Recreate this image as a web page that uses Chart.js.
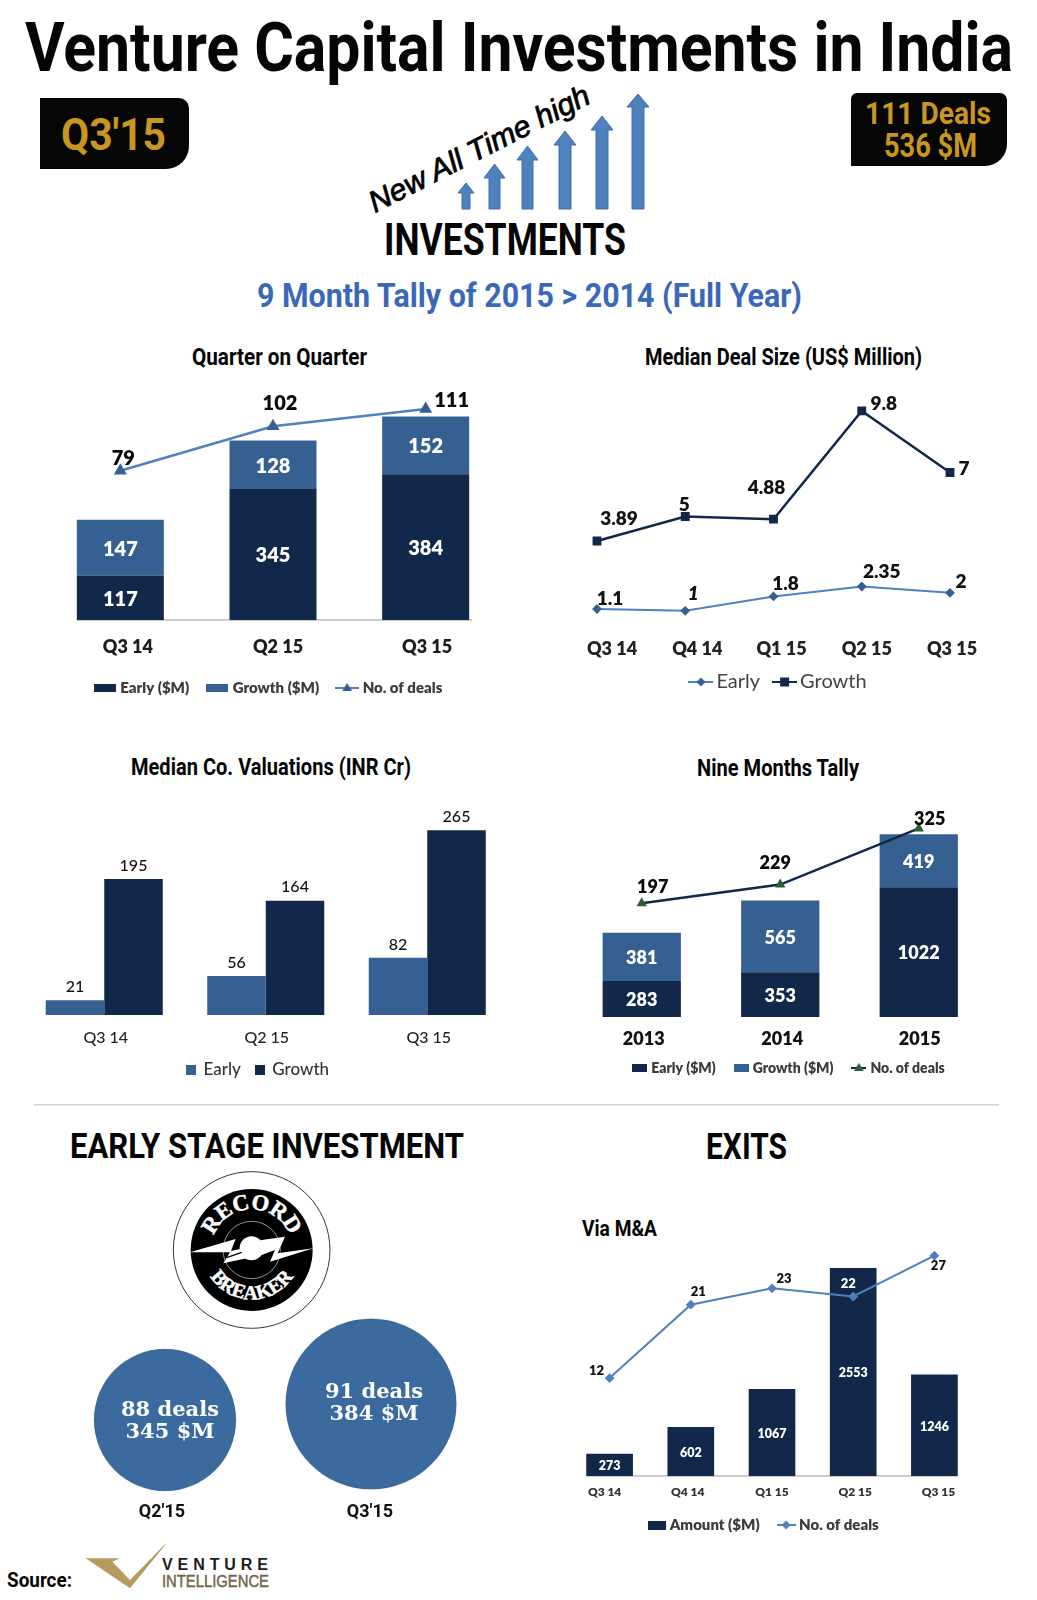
<!DOCTYPE html>
<html>
<head>
<meta charset="utf-8">
<title>Venture Capital Investments in India</title>
<script src="https://cdn.jsdelivr.net/npm/chart.js@4/dist/chart.umd.min.js"></script>
<style>
  html, body { margin: 0; padding: 0; background: #fff; }
  #page { position: relative; width: 1037px; height: 1600px; overflow: hidden; }
  #page svg { position: absolute; left: 0; top: 0; }
  #page canvas { position: absolute; }
  .h { font-family: "Liberation Sans Narrow", Roboto, sans-serif; font-weight: 700; fill: #050505; }
</style>
</head>
<body>
<div id="page">
<svg width="1037" height="1600" viewBox="0 0 1037 1600">
  <text class="h" x="25" y="71" font-size="69" textLength="988" lengthAdjust="spacingAndGlyphs">Venture Capital Investments in India</text>

  <path d="M40 98H179a10 10 0 0 1 10 10V146a23 23 0 0 1 -23 23H40Z" fill="#060606"/>
  <text class="h" x="61" y="150" font-size="45" textLength="105" lengthAdjust="spacingAndGlyphs" style="fill:#c9971f">Q3'15</text>
  <path d="M857 93H1000a7 7 0 0 1 7 7V144a22 22 0 0 1 -22 22H851V99a6 6 0 0 1 6 -6Z" fill="#060606"/>
  <text class="h" x="865" y="124" font-size="31" textLength="126" lengthAdjust="spacingAndGlyphs" style="fill:#c9971f">111 Deals</text>
  <text class="h" x="884" y="157" font-size="33" textLength="93" lengthAdjust="spacingAndGlyphs" style="fill:#c9971f">536 $M</text>

  <g fill="#4f81bd" stroke="#3f6fa8" stroke-width="1">
    <path d="M462 209V193H458L466 183L474 193H470V209Z"/>
    <path d="M489 209V178H484L494.5 164L505 178H500V209Z"/>
    <path d="M522 209V160H517L527.5 146L538 160H533V209Z"/>
    <path d="M559 209V145H554L565 131L576 145H571V209Z"/>
    <path d="M596 209V130H591L602 116L613 130H608V209Z"/>
    <path d="M632 209V107H627L638 94L649 107H644V209Z"/>
  </g>
  <text x="375" y="213" transform="rotate(-27 375 213)" font-family="'Liberation Sans', sans-serif" font-style="italic" font-size="30" stroke="#000" stroke-width=".8" textLength="244" lengthAdjust="spacingAndGlyphs">New All Time high</text>
  <text class="h" x="384" y="255" font-size="45" textLength="242" lengthAdjust="spacingAndGlyphs">INVESTMENTS</text>
  <text class="h" x="257" y="307" font-size="33" textLength="545" lengthAdjust="spacingAndGlyphs" style="fill:#3a68b8">9 Month Tally of 2015 &gt; 2014 (Full Year)</text>

  <text class="h" x="192" y="365" font-size="23" textLength="175" lengthAdjust="spacingAndGlyphs">Quarter on Quarter</text>
  <text class="h" x="645" y="365" font-size="23" textLength="277" lengthAdjust="spacingAndGlyphs">Median Deal Size (US$ Million)</text>
  <text class="h" x="131" y="775" font-size="23" textLength="280" lengthAdjust="spacingAndGlyphs">Median Co. Valuations (INR Cr)</text>
  <text class="h" x="697" y="776" font-size="23" textLength="162" lengthAdjust="spacingAndGlyphs">Nine Months Tally</text>

  <rect x="34" y="1104" width="965" height="1.6" fill="#d2d2d2"/>

  <text class="h" x="70" y="1158" font-size="35" textLength="394" lengthAdjust="spacingAndGlyphs">EARLY STAGE INVESTMENT</text>
  <text class="h" x="706" y="1159" font-size="36" textLength="81" lengthAdjust="spacingAndGlyphs">EXITS</text>
  <text class="h" x="582" y="1236" font-size="22" textLength="75" lengthAdjust="spacingAndGlyphs">Via M&amp;A</text>

  <g transform="translate(165 1165) scale(.3333)">
    <circle cx="260" cy="255" r="235" fill="#fff" stroke="#333" stroke-width="3"/>
    <circle cx="260" cy="255" r="183" fill="#000"/>
    <circle cx="260" cy="255" r="86" fill="none" stroke="#ddd" stroke-width="2"/>
    <path d="M75 262L212 222L198 258L235 250L290 225L360 215L338 265L445 250L315 290L330 255L290 270L175 295L195 262Z" fill="#fff"/>
    <circle cx="260" cy="250" r="36" fill="#fff"/>
    <path d="M185 278L230 262" stroke="#000" stroke-width="4"/>
    <defs>
      <path id="arcTop" d="M138 255A122 122 0 0 1 382 255"/>
      <path id="arcBot" d="M112 255A148 148 0 0 0 408 255"/>
    </defs>
    <text font-family="'Liberation Serif', serif" font-weight="700" font-size="68" fill="#fff" stroke="#fff" stroke-width="1.5" text-anchor="middle"><textPath href="#arcTop" startOffset="50%">RECORD</textPath></text>
    <text font-family="'Liberation Serif', serif" font-weight="700" font-size="60" fill="#fff" stroke="#fff" stroke-width="1.5" text-anchor="middle"><textPath href="#arcBot" startOffset="50%">BREAKER</textPath></text>
  </g>

  <text class="h" x="7" y="1587" font-size="21" textLength="65" lengthAdjust="spacingAndGlyphs">Source:</text>
  <g transform="translate(75 1535) scale(.3333)">
    <path d="M32 70H135L112 80L165 135L270 28L275 25L165 160Z" fill="#b79a5e"/>
    <path d="M118 84L134 76L166 118L250 40L166 130Z" fill="#fff"/>
  </g>
  <text x="162" y="1570" font-family="'Liberation Sans', sans-serif" font-weight="700" font-size="16" fill="#1c1c1c" textLength="106" lengthAdjust="spacing">VENTURE</text>
  <text x="162" y="1587" font-family="'Liberation Sans Narrow', sans-serif" font-size="16" fill="#7d6e50" stroke="#5e5238" stroke-width=".4" textLength="107" lengthAdjust="spacingAndGlyphs">INTELLIGENCE</text>
</svg>
</div>

<script>
const qoqQuarters = ["Q3 14", "Q2 15", "Q3 15"];
const qoqEarly = [117, 345, 384];
const qoqGrowth = [147, 128, 152];
const qoqDeals = [79, 102, 111];

const sizeQuarters = ["Q3 14", "Q4 14", "Q1 15", "Q2 15", "Q3 15"];
const sizeEarly = [1.1, 1, 1.8, 2.35, 2];
const sizeGrowth = [3.89, 5, 4.88, 9.8, 7];

const valQuarters = ["Q3 14", "Q2 15", "Q3 15"];
const valEarly = [21, 56, 82];
const valGrowth = [195, 164, 265];

const tallyYears = ["2013", "2014", "2015"];
const tallyEarly = [283, 353, 1022];
const tallyGrowth = [381, 565, 419];
const tallyDeals = [197, 229, 325];

const exitQuarters = ["Q3 14", "Q4 14", "Q1 15", "Q2 15", "Q3 15"];
const exitAmount = [273, 602, 1067, 2553, 1246];
const exitDeals = [12, 21, 23, 22, 27];

const recordQuarters = ["Q2'15", "Q3'15"];
const recordDeals = [88, 91];
const recordAmount = [345, 384];

const DARK = "#12284a";
const MID = "#376092";
const LINE = "#4f81bd";
const LATO = "Lato, sans-serif";
const NARROW = '"Liberation Sans Narrow", Roboto, sans-serif';

// legend icons are little canvases so the marks look like the office ones
function boxIcon(w, h, color) {
  const c = document.createElement("canvas");
  c.width = w;
  c.height = h;
  const g = c.getContext("2d");
  g.fillStyle = color;
  g.fillRect(0, 0, w, h);
  return c;
}

function lineIcon(w, color, marker, markerColor) {
  const c = document.createElement("canvas");
  c.width = w;
  c.height = 14;
  const g = c.getContext("2d");
  g.strokeStyle = color;
  g.lineWidth = 2;
  g.beginPath();
  g.moveTo(0, 7);
  g.lineTo(w, 7);
  g.stroke();
  g.fillStyle = markerColor;
  const m = w / 2;
  g.beginPath();
  if (marker === "triangle") {
    g.moveTo(m, 2);
    g.lineTo(m + 5, 10);
    g.lineTo(m - 5, 10);
  } else if (marker === "diamond") {
    g.moveTo(m, 2.5);
    g.lineTo(m + 4.5, 7);
    g.lineTo(m, 11.5);
    g.lineTo(m - 4.5, 7);
  } else {
    g.rect(m - 4.5, 2.5, 9, 9);
  }
  g.fill();
  return c;
}

// value labels, Chart.js has no built in ones
const valueLabels = {
  id: "valueLabels",
  afterDatasetsDraw(chart) {
    const ctx = chart.ctx;
    chart.data.datasets.forEach((ds, i) => {
      const opt = ds.valueLabels;
      if (!opt) return;
      chart.getDatasetMeta(i).data.forEach((el, j) => {
        const off = opt.offsets ? opt.offsets[j] : [0, opt.dy || 0];
        const y = (opt.center ? (el.y + el.base) / 2 : el.y + off[1]) + 1.5;
        const x = opt.center ? el.x : el.x + off[0];
        const italic = opt.italic && opt.italic.includes(j) ? "italic " : "";
        ctx.save();
        ctx.font = italic + opt.font;
        ctx.fillStyle = Array.isArray(opt.color) ? opt.color[j] : opt.color;
        ctx.textAlign = "center";
        ctx.textBaseline = "middle";
        ctx.fillText(ds.data[j], x, y);
        ctx.restore();
      });
    });
  },
};

// grey axis line that only runs under the bars
const barBase = {
  id: "barBase",
  beforeDatasetsDraw(chart, args, opts) {
    if (!opts.color) return;
    const bars = chart.getDatasetMeta(0).data;
    const a = bars[0];
    const b = bars[bars.length - 1];
    const ctx = chart.ctx;
    ctx.save();
    ctx.strokeStyle = opts.color;
    ctx.lineWidth = 1.5;
    ctx.beginPath();
    ctx.moveTo(a.x - a.width / 2, chart.chartArea.bottom);
    ctx.lineTo(b.x + b.width / 2 + opts.extra, chart.chartArea.bottom);
    ctx.stroke();
    ctx.restore();
  },
};

// moves the legend to where the picture has it
const legendSpot = {
  id: "legendSpot",
  afterLayout(chart, args, opts) {
    const l = chart.legend;
    if (!opts.cx || !l) return;
    const w = l.right - l.left;
    l.left = opts.cx - opts.originX - w / 2;
    l.right = l.left + w;
    l.top = opts.cy - opts.originY - opts.padding - opts.size / 2;
    l.bottom = l.top + opts.size + 2 * opts.padding;
  },
};

// the tick labels in the picture do not sit quite under their bars
const tickShift = {
  id: "tickShift",
  beforeDraw(chart, args, opts) {
    if (!opts.dx) return;
    chart.scales.x.getLabelItems().forEach((item, i) => {
      item.options.translation[0] += opts.dx[i];
    });
  },
};

// text inside the early stage bubbles
const bubbleText = {
  id: "bubbleText",
  afterDatasetsDraw(chart, args, opts) {
    if (!opts.lines) return;
    const ctx = chart.ctx;
    ctx.save();
    ctx.font = '700 21px "DejaVu Serif", serif';
    ctx.fillStyle = "#fff";
    ctx.textAlign = "center";
    ctx.textBaseline = "middle";
    chart.getDatasetMeta(0).data.forEach((el, i) => {
      ctx.fillText(opts.lines[i][0], el.x + opts.dx[i], el.y + opts.dy[i]);
      ctx.fillText(opts.lines[i][1], el.x + opts.dx[i], el.y + opts.dy[i] + 22);
    });
    ctx.restore();
  },
};

Chart.register(valueLabels, barBase, legendSpot, tickShift, bubbleText);

function draw(spec) {
  const [cl, ct, cr, cb] = spec.canvas;
  const [pl, pt, pr, pb] = spec.plot;
  const canvas = document.createElement("canvas");
  canvas.width = cr - cl;
  canvas.height = cb - ct;
  canvas.style.left = cl + "px";
  canvas.style.top = ct + "px";
  document.getElementById("page").appendChild(canvas);

  const lg = spec.legend;
  const legendHeight = lg ? lg.size + lg.padding + 10 : 0;
  const axisHeight = cb - pb - legendHeight;

  const scales = {
    x: {
      type: "category",
      offset: spec.offset !== false,
      stacked: !!spec.stacked,
      grid: { display: false, drawTicks: false },
      border: { display: false },
      ticks: {
        autoSkip: false,
        maxRotation: 0,
        color: spec.tick.color,
        font: { family: spec.tick.family || LATO, size: spec.tick.size, weight: spec.tick.weight },
        padding: spec.tick.cy - pb - spec.tick.size * 0.6,
      },
      afterFit: (s) => {
        s.height = axisHeight;
      },
    },
  };
  Object.entries(spec.y).forEach(([id, range]) => {
    scales[id] = {
      display: false,
      stacked: !!spec.stacked && id === "y",
      min: range[0],
      max: range[1],
    };
  });

  return new Chart(canvas, {
    type: spec.type || "bar",
    data: { labels: spec.labels, datasets: spec.datasets },
    options: {
      responsive: false,
      animation: false,
      devicePixelRatio: 1,
      layout: {
        autoPadding: false,
        padding: { left: pl - cl, right: cr - pr, top: pt - ct, bottom: 0 },
      },
      scales: scales,
      plugins: {
        tooltip: { enabled: false },
        barBase: spec.base || {},
        tickShift: { dx: spec.tick.dx },
        bubbleText: spec.bubbleText || {},
        legendSpot: lg
          ? { cx: lg.cx, cy: lg.cy, originX: cl, originY: ct, padding: lg.padding, size: lg.size }
          : {},
        legend: lg
          ? {
              position: "bottom",
              labels: {
                usePointStyle: true,
                pointStyleWidth: lg.boxW,
                padding: lg.padding,
                color: lg.color,
                font: { family: LATO, size: lg.size, weight: lg.weight },
                generateLabels: (chart) =>
                  chart.data.datasets.map((d, i) => ({
                    text: d.label,
                    pointStyle: lg.icons[i],
                    datasetIndex: i,
                    lineWidth: 0,
                    fontColor: lg.color,
                  })),
              },
            }
          : { display: false },
      },
    },
  });
}

// Quarter on Quarter
draw({
  canvas: [30, 375, 509, 710],
  plot: [44, 380, 502, 620],
  labels: qoqQuarters,
  stacked: true,
  y: { y: [0, 632], y2: [1.6, 126] },
  tick: { size: 18, weight: "800", color: "#1c1c1c", cy: 647, dx: [7.5, 5, 1.5] },
  base: { color: "#bdbdbd", extra: 3 },
  legend: {
    cx: 269.5, cy: 688, size: 15, weight: "800", color: "#3c3c3c", padding: 20, boxW: 16,
    icons: [boxIcon(22, 8, DARK), boxIcon(22, 8, MID), lineIcon(24, LINE, "triangle", MID)],
  },
  datasets: [
    {
      label: "Early ($M)", data: qoqEarly, backgroundColor: DARK, order: 1, stack: "a",
      barPercentage: 0.57, categoryPercentage: 1,
      valueLabels: { center: true, font: "800 20px " + LATO, color: "#fff" },
    },
    {
      label: "Growth ($M)", data: qoqGrowth, backgroundColor: MID, order: 1, stack: "a",
      barPercentage: 0.57, categoryPercentage: 1,
      valueLabels: { center: true, font: "800 20px " + LATO, color: "#fff" },
    },
    {
      type: "line", label: "No. of deals", data: qoqDeals, yAxisID: "y2", order: 0,
      borderColor: LINE, borderWidth: 2.5, pointStyle: "triangle", pointRadius: 5,
      pointBackgroundColor: MID, pointBorderColor: MID,
      valueLabels: {
        font: "800 20px " + LATO, color: "#0a0a0a",
        offsets: [[3, -14], [7, -24], [26, -10]],
      },
    },
  ],
});

// Median Deal Size
draw({
  canvas: [540, 375, 1037, 715],
  plot: [597, 390, 950, 630],
  labels: sizeQuarters,
  type: "line",
  offset: false,
  y: { yEarly: [-0.067, 13.27], yGrowth: [-0.155, 10.75] },
  tick: { size: 18, weight: "800", color: "#222", cy: 649, dx: [15, 12, 8, 5, 2] },
  legend: {
    cx: 781, cy: 682, size: 20, weight: "400", color: "#444", padding: 19, boxW: 11,
    icons: [lineIcon(25, LINE, "diamond", MID), lineIcon(25, DARK, "square", DARK)],
  },
  datasets: [
    {
      label: "Early", data: sizeEarly, yAxisID: "yEarly",
      borderColor: LINE, borderWidth: 2, pointStyle: "rectRot", pointRadius: 3.5,
      pointBackgroundColor: MID, pointBorderColor: MID,
      valueLabels: {
        font: "800 19px " + LATO, color: "#111", italic: [1],
        offsets: [[13, -11.5], [8, -18], [12, -14.5], [20, -16], [11, -12.5]],
      },
    },
    {
      label: "Growth", data: sizeGrowth, yAxisID: "yGrowth",
      borderColor: DARK, borderWidth: 2.5, pointStyle: "rect", pointRadius: 4.5,
      pointBackgroundColor: DARK, pointBorderColor: DARK,
      valueLabels: {
        font: "800 19px " + LATO, color: "#111",
        offsets: [[22, -24], [-1, -13], [-7, -33], [22, -9], [14, -5]],
      },
    },
  ],
});

// Median Co. Valuations
draw({
  canvas: [10, 810, 510, 1115],
  plot: [23.5, 815, 508, 1015],
  labels: valQuarters,
  y: { y: [0, 287] },
  tick: { size: 16, weight: "500", color: "#222", cy: 1038, dx: [1.5, 1, 1.5] },
  legend: {
    cx: 258.5, cy: 1070, size: 17, weight: "500", color: "#333", padding: 16, boxW: 7,
    icons: [boxIcon(10, 10, MID), boxIcon(10, 10, DARK)],
  },
  datasets: [
    {
      label: "Early", data: valEarly, backgroundColor: MID,
      barPercentage: 1, categoryPercentage: 0.7245,
      valueLabels: { dy: -15, font: "500 16px " + LATO, color: "#111" },
    },
    {
      label: "Growth", data: valGrowth, backgroundColor: DARK,
      barPercentage: 1, categoryPercentage: 0.7245,
      valueLabels: { dy: -15, font: "500 16px " + LATO, color: "#111" },
    },
  ],
});

// Nine Months Tally
draw({
  canvas: [540, 800, 1037, 1105],
  plot: [572.5, 810, 988, 1017],
  labels: tallyYears,
  stacked: true,
  y: { y: [0, 1632], y2: [2.6, 356.5] },
  tick: { size: 18, weight: "800", color: "#111", cy: 1039, dx: [2, 2, 1] },
  legend: {
    cx: 790, cy: 1068, size: 14, weight: "800", color: "#3c3c3c", padding: 21, boxW: 9,
    icons: [boxIcon(15, 8, DARK), boxIcon(15, 8, MID), lineIcon(15, DARK, "triangle", "#2f5d3a")],
  },
  datasets: [
    {
      label: "Early ($M)", data: tallyEarly, backgroundColor: DARK, order: 1, stack: "a",
      barPercentage: 0.565, categoryPercentage: 1,
      valueLabels: { center: true, font: "800 18px " + LATO, color: "#fff" },
    },
    {
      label: "Growth ($M)", data: tallyGrowth, backgroundColor: MID, order: 1, stack: "a",
      barPercentage: 0.565, categoryPercentage: 1,
      valueLabels: { center: true, font: "800 18px " + LATO, color: "#fff" },
    },
    {
      type: "line", label: "No. of deals", data: tallyDeals, yAxisID: "y2", order: 0,
      borderColor: DARK, borderWidth: 2.5, pointStyle: "triangle", pointRadius: 3.5,
      pointBackgroundColor: "#2f5d3a", pointBorderColor: "#2f5d3a",
      valueLabels: {
        font: "800 18px " + LATO, color: "#0a0a0a",
        offsets: [[11, -18], [-5, -23], [11, -11]],
      },
    },
  ],
});

// Exits via M&A
draw({
  canvas: [540, 1225, 1037, 1545],
  plot: [569, 1230, 975, 1476],
  labels: exitQuarters,
  y: { y: [0, 3018], y2: [0, 30.15] },
  tick: { size: 12, weight: "800", color: "#333", cy: 1491.7, dx: [-5, -3, 0, 2, 4] },
  base: { color: "#bdbdbd", extra: 0 },
  legend: {
    cx: 765, cy: 1525, size: 15, weight: "800", color: "#3c3c3c", padding: 21, boxW: 11,
    icons: [boxIcon(18, 9, DARK), lineIcon(19, LINE, "diamond", LINE)],
  },
  datasets: [
    {
      label: "Amount ($M)", data: exitAmount, backgroundColor: DARK, order: 1,
      barPercentage: 0.575, categoryPercentage: 1,
      valueLabels: { center: true, font: "800 12.5px " + LATO, color: "#fff" },
    },
    {
      type: "line", label: "No. of deals", data: exitDeals, yAxisID: "y2", order: 0,
      borderColor: LINE, borderWidth: 2, pointStyle: "rectRot", pointRadius: 3.5,
      pointBackgroundColor: LINE, pointBorderColor: LINE,
      valueLabels: {
        font: "800 13px " + LATO, color: ["#111", "#111", "#111", "#fff", "#111"],
        offsets: [[-13, -9], [7.5, -14], [12, -11], [-5, -14], [4, 9]],
      },
    },
  ],
});

// Early stage record bubbles, height follows deals and size follows amount
draw({
  canvas: [50, 1300, 490, 1530],
  plot: [62, 1300, 474, 1500],
  type: "bubble",
  labels: recordQuarters,
  y: { y: [73, 110.5] },
  tick: { family: NARROW, size: 18, weight: "700", color: "#111", cy: 1512, dx: [-3, -1] },
  bubbleText: {
    lines: recordDeals.map((d, i) => [d + " deals", recordAmount[i] + " $M"]),
    dx: [5, 3],
    dy: [-9, -11],
  },
  datasets: [
    {
      label: "Early", backgroundColor: "#3a6a9e", clip: false,
      data: recordDeals.map((d, i) => ({
        x: recordQuarters[i],
        y: d,
        r: 71 * Math.pow(recordAmount[i] / 345, 1.72),
      })),
    },
  ],
});
</script>
</body>
</html>
